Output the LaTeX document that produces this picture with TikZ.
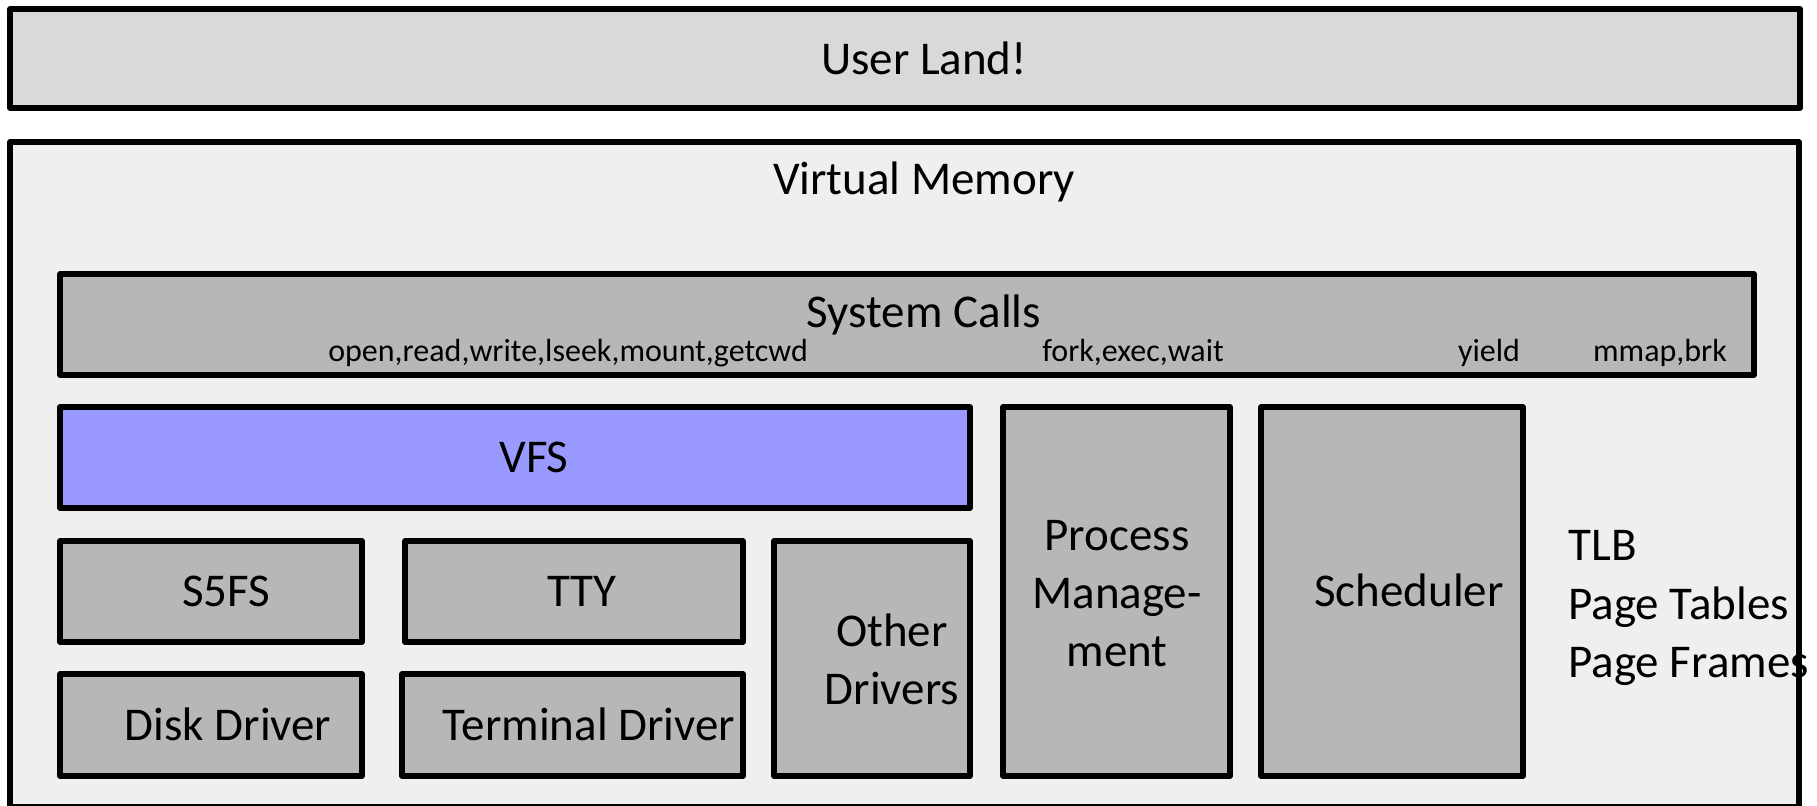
\documentclass[tikz,border=0pt]{standalone}
\usepackage{fontspec}
\setmainfont{Carlito}
\definecolor{userfill}{HTML}{D9D9D9}
\definecolor{vmfill}{HTML}{EFEFEF}
\definecolor{boxfill}{HTML}{B7B7B7}
\definecolor{vfsfill}{HTML}{9999FF}
\begin{document}
\begin{tikzpicture}[x=0.5pt,y=-0.5pt,
  layer/.style={draw=black,line width=2.75pt,line join=round},
  big/.style={font=\fontsize{23.5}{29}\selectfont,inner sep=0pt},
  small/.style={font=\fontsize{16}{19}\selectfont,inner sep=0pt,anchor=base}]
\useasboundingbox (0,0) rectangle (1817,806);

% user land and the kernel frame
\draw[layer,fill=userfill] (10,9) rectangle (1800,108);
\node[big,anchor=base] (user) at (924,75) {User Land!};
\draw[layer,fill=vmfill] (10,142) rectangle (1799,807);
\node[big,anchor=base] (vm) at (924,195) {Virtual Memory};

% system calls
\draw[layer,fill=boxfill] (60,274) rectangle (1754,375);
\node[big,anchor=base] (sys) at (924,328) {System Calls};
\foreach \x/\txt [count=\i] in {568/{open,read,write,lseek,mount,getcwd},1133/{fork,exec,wait},1489/{yield},1660/{mmap,brk}}
  \node[small] (call\i) at (\x,362) {\txt};

% file system side
\draw[layer,fill=vfsfill] (60,407) rectangle (970,508);
\node[big,anchor=base] (vfs) at (534,473) {VFS};
\draw[layer,fill=boxfill] (60,541) rectangle (362,642);
\node[big,anchor=base] (s5fs) at (226,607) {S5FS};
\draw[layer,fill=boxfill] (405,541) rectangle (743,642);
\node[big,anchor=base] (tty) at (582,607) {TTY};
\draw[layer,fill=boxfill] (60,674) rectangle (362,776);
\node[big,anchor=base] (disk) at (228,741) {Disk Driver};
\draw[layer,fill=boxfill] (402,674) rectangle (743,776);
\node[big,anchor=base] (term) at (589,741) {Terminal Driver};
\draw[layer,fill=boxfill] (774,541) rectangle (970,776);
\node[big,align=center] (other) at (892,659) {Other\\Drivers};

% processes
\draw[layer,fill=boxfill] (1003,407) rectangle (1230,776);
\node[big,align=center] (proc) at (1117,594) {Process\\Manage-\\ment};
\draw[layer,fill=boxfill] (1261,407) rectangle (1523,776);
\node[big,anchor=base] (sched) at (1409,607) {Scheduler};

% memory parts
\foreach \y/\txt [count=\i] in {561/TLB,620/Page Tables,678/Page Frames}
  \node[big,anchor=base west] (mem\i) at (1568,\y) {\txt};
\end{tikzpicture}
\end{document}
